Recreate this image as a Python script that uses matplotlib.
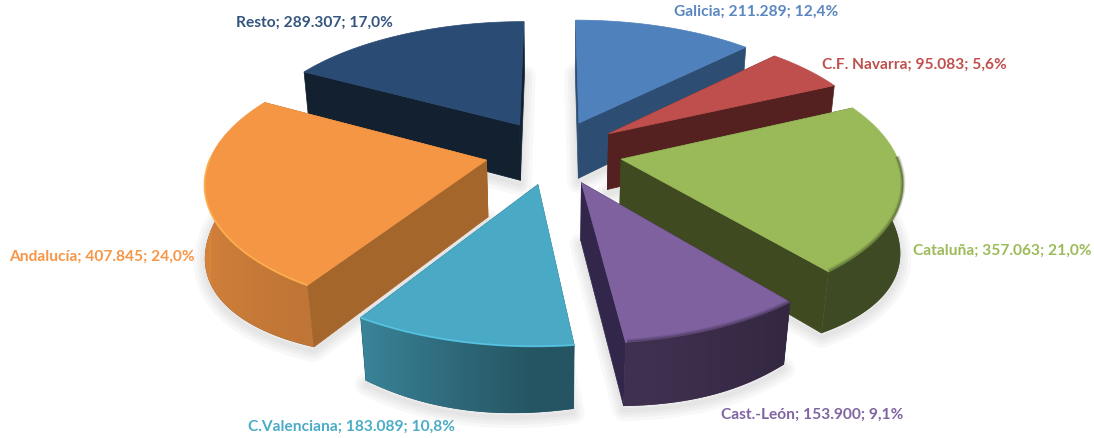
import numpy as np
import matplotlib
matplotlib.use("Agg")
import matplotlib.pyplot as plt
from matplotlib.patches import Polygon
from matplotlib.colors import to_rgb

names = ["Galicia", "C.F. Navarra", "Cataluña", "Cast.-León", "C.Valenciana", "Andalucía", "Resto"]
values = [211289, 95083, 357063, 153900, 183089, 407845, 289307]
top_colors = ["#4f81bd", "#be4f4c", "#9aba59", "#7f61a0", "#4aa9c4", "#f59645", "#2a4b74"]
cut_colors = ["#2d4d73", "#552120", "#3f4a20", "#32274a", "#2a6070", "#a5662c", "#12202f"]
label_colors = ["#5a87c0", "#c0504d", "#9bbb59", "#8064a2", "#4bacc6", "#f79646", "#34557e"]
label_x = [756, 914, 1002, 812, 351, 102, 314]
label_y = [12, 65, 251, 415, 427, 257, 23]

# camera of the 3D pie
center_x, center_y = 553.6, 151.9
scale_x, scale_y = 274.3, 251.6
tilt = 0.5264
persp = 0.1739
explode_x, explode_y = 0.2504, 0.2554
depth = 0.2658
bulge = 2.0

# shading of the outer wall by angle
shade_angle = [0, 100, 140, 170, 180, 212, 270, 360]
shade_value = [0.4, 0.4, 0.4, 0.5, 0.5, 0.78, 0.9, 0.4]

shares = np.array(values) / sum(values)
ends = np.cumsum(shares) * 360
starts = ends - shares * 360
mids = (starts + ends) / 2


def project(i, theta, r, low):
    th = np.radians(np.asarray(theta, float))
    m = np.radians(mids[i])
    X = r * np.sin(th) + explode_x * np.sin(m)
    Y = r * np.cos(th) + explode_y * np.cos(m)
    Z = -depth * low
    yc = Y * np.sin(tilt) + Z * np.cos(tilt)
    w = 1 + persp * (Y * np.cos(tilt) - Z * np.sin(tilt))
    return center_x + scale_x * X / w, center_y - scale_y * yc / w


fig = plt.figure(figsize=(10.94, 4.38), dpi=100)
ax = fig.add_axes([0, 0, 1, 1])
ax.axis("off")

z = 1
order = np.argsort(-np.cos(np.radians(mids)))
for i in order:
    th = np.linspace(starts[i], ends[i], 120)
    tx, ty = project(i, th, 1.0, 0)
    # the bevel rounds the base outward towards the front of the arc
    round_out = np.sin(np.linspace(0, np.pi, len(th))) * np.clip(-np.cos(np.radians(th)), 0, 1)
    bx, by = project(i, th, 1 + bulge * shares[i] ** 2 * round_out, 1)
    ax0, ay0 = project(i, 0, 0.0, 0)
    ax1, ay1 = project(i, 0, 0.0, 1)
    rgb = np.array(to_rgb(top_colors[i]))

    # soft shadow below the base
    base = np.column_stack([np.r_[ax1, bx], np.r_[ay1, by] + 4])
    for lw in [16, 11, 7, 3]:
        ax.add_patch(Polygon(base, closed=True, fc="none", ec="#808080", lw=lw, alpha=0.05, joinstyle="round", zorder=z))
    z += 1

    # the two cut faces
    for n in [0, -1]:
        ax.add_patch(Polygon([(ax0, ay0), (tx[n], ty[n]), (bx[n], by[n]), (ax1, ay1)], closed=True,
                             fc=cut_colors[i], ec=cut_colors[i], lw=0.5, zorder=z))
    z += 1

    # outer wall: horizontal gradient clipped to the part facing the viewer
    front = np.cos(np.radians(th)) < 0.02
    if front.any():
        wall = np.column_stack([np.r_[tx[front], bx[front][::-1]], np.r_[ty[front], by[front][::-1]]])
        patch = Polygon(wall, closed=True, fc=rgb * 0.5, ec="none", zorder=z)
        ax.add_patch(patch)
        xs = np.linspace(wall[:, 0].min(), wall[:, 0].max(), 200)
        sort = np.argsort(tx[front])
        grad_th = np.interp(xs, tx[front][sort], th[front][sort])
        grad = np.clip(rgb[None, None, :] * np.interp(grad_th, shade_angle, shade_value)[None, :, None], 0, 1)
        im = ax.imshow(grad, extent=(xs[0], xs[-1], wall[:, 1].max(), wall[:, 1].min()), aspect="auto",
                       zorder=z + 1, interpolation="bilinear")
        im.set_clip_path(patch)
        z += 2

    # top face
    ax.add_patch(Polygon(np.column_stack([np.r_[ax0, tx], np.r_[ay0, ty]]), closed=True,
                         fc=top_colors[i], ec=top_colors[i], lw=0.5, zorder=z))
    z += 1

    # bevel along the rim, dark on the right and light on the left
    dark = front & (th < starts[4] - 0.01)
    light = front & (th >= starts[4] - 0.01)
    for lw, al in [(3.5, 0.2), (1.8, 0.4)]:
        ax.plot(tx[dark], ty[dark] - lw / 4, color=rgb * 0.45, lw=lw, alpha=al, solid_capstyle="butt", zorder=z)
    ax.plot(tx[light], ty[light], color=np.clip(rgb * 1.2, 0, 1), lw=1.3, alpha=0.8, solid_capstyle="butt", zorder=z)
    z += 1

ax.set_xlim(0, 1094)
ax.set_ylim(438, 0)

for i in range(len(values)):
    val = f"{values[i]:,}".replace(",", ".")
    pct = f"{shares[i] * 100:.1f}".replace(".", ",")
    ax.text(label_x[i], label_y[i], f"{names[i]}; {val}; {pct}%", color=label_colors[i], family="Lato",
            weight="bold", fontsize=11.2, ha="center", va="center", zorder=z)

fig.savefig("out.png", dpi=100)
